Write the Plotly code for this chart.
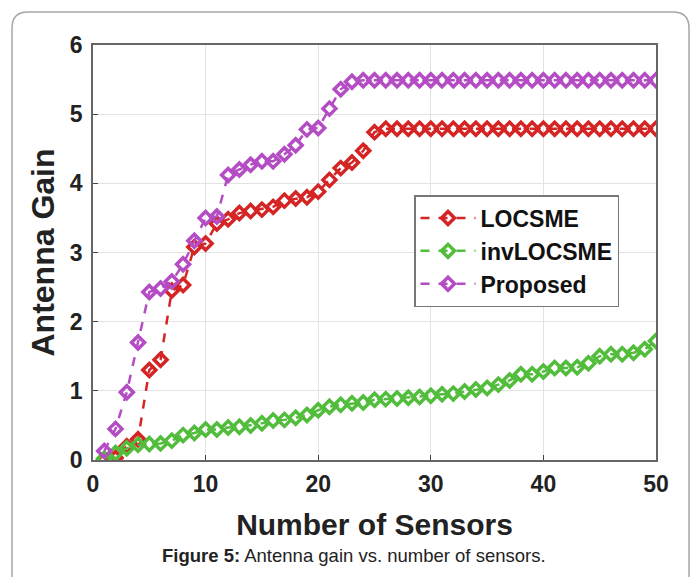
import plotly.graph_objects as go

sensors = list(range(1, 51))

locsme = [0.0, 0.03, 0.2, 0.3, 1.3, 1.45, 2.45, 2.53, 3.08, 3.13,
          3.42, 3.48, 3.57, 3.6, 3.62, 3.66, 3.75, 3.78, 3.8, 3.88,
          4.05, 4.22, 4.3, 4.47, 4.74] + [4.79] * 25

inv_locsme = [0.02, 0.1, 0.17, 0.22, 0.23, 0.24, 0.28, 0.36, 0.39, 0.44,
              0.44, 0.47, 0.48, 0.5, 0.53, 0.57, 0.58, 0.61, 0.65, 0.72,
              0.77, 0.8, 0.82, 0.83, 0.87, 0.88, 0.89, 0.9, 0.91, 0.93,
              0.95, 0.96, 0.99, 1.02, 1.04, 1.09, 1.15, 1.24, 1.24, 1.28,
              1.33, 1.33, 1.34, 1.4, 1.5, 1.53, 1.53, 1.55, 1.6, 1.72]

proposed = [0.13, 0.45, 0.98, 1.7, 2.43, 2.48, 2.58, 2.83, 3.17, 3.5,
            3.52, 4.12, 4.2, 4.27, 4.32, 4.32, 4.42, 4.55, 4.78, 4.8,
            5.08, 5.36, 5.47] + [5.49] * 27

series_names = ["LOCSME", "invLOCSME", "Proposed"]
series_values = [locsme, inv_locsme, proposed]
series_colors = ["#d42424", "#52bd3c", "#b44cc4"]

x_ticks = [0, 10, 20, 30, 40, 50]
y_ticks = [0, 1, 2, 3, 4, 5, 6]

FONT = "Liberation Sans, Arial, sans-serif"

fig = go.Figure()
for name, vals, col in zip(series_names, series_values, series_colors):
    fig.add_trace(go.Scatter(
        x=sensors, y=vals, name=name, mode="lines+markers",
        line=dict(color=col, width=2.5, dash="dash"),
        marker=dict(symbol="diamond-open", size=10, color=col,
                    line=dict(color=col, width=3.5)),
    ))

# plot area pixel geometry
L, R, T, B = 93, 656, 45, 460
W, H = 695, 577

def px(xp):
    return (xp - L) / (R - L)

def py(yp):
    return (B - yp) / (B - T)

# outer rounded border
x0, x1, y0, yb, r = px(12), px(689), py(12), py(600), 16
rx, ry = r / (R - L), r / (B - T)
path = (f"M {x0},{yb} L {x0},{y0 - ry} Q {x0},{y0} {x0 + rx},{y0} "
        f"L {x1 - rx},{y0} Q {x1},{y0} {x1},{y0 - ry} L {x1},{yb}")
fig.add_shape(type="path", path=path, xref="paper", yref="paper",
              line=dict(color="#a6a6a6", width=1.5), layer="below")

fig.add_annotation(
    x=px(354), y=py(555), xref="paper", yref="paper", showarrow=False,
    text="<b>Figure 5:</b> Antenna gain vs. number of sensors.",
    font=dict(family=FONT, size=18.5, color="#222"), xanchor="center", yanchor="middle")

fig.update_layout(
    width=W, height=H,
    margin=dict(l=L, r=W - R, t=T, b=H - B),
    paper_bgcolor="white", plot_bgcolor="white",
    font=dict(family=FONT, color="#262626"),
    showlegend=True,
    legend=dict(
        x=px(414), y=py(195), xanchor="left", yanchor="top",
        bgcolor="white", bordercolor="#777", borderwidth=1.5,
        font=dict(family=FONT, size=23, color="#111", weight="bold"),
        itemwidth=55, tracegroupgap=0,
    ),
    xaxis=dict(
        range=[0, 50], tickvals=x_ticks, ticktext=[str(v) for v in x_ticks],
        showgrid=True, gridcolor="#e3e3e3", gridwidth=1,
        showline=True, linecolor="#666", linewidth=1.5, mirror=True,
        ticks="inside", ticklen=5, tickcolor="#444", zeroline=False,
        tickfont=dict(family=FONT, size=23, color="#222", weight="bold"),
        ticklabelstandoff=3,
        title=dict(text="Number of Sensors", standoff=18,
                   font=dict(family=FONT, size=30, color="#222", weight="bold")),
    ),
    yaxis=dict(
        range=[0, 6], tickvals=y_ticks, ticktext=[str(v) for v in y_ticks],
        showgrid=True, gridcolor="#e3e3e3", gridwidth=1,
        showline=True, linecolor="#666", linewidth=1.5, mirror=True,
        ticks="inside", ticklen=5, tickcolor="#444", zeroline=False,
        tickfont=dict(family=FONT, size=23, color="#222", weight="bold"),
        ticklabelstandoff=4,
        title=dict(text="Antenna Gain", standoff=6,
                   font=dict(family=FONT, size=32, color="#222", weight="bold")),
    ),
)

fig.write_html("out.html", config={"displayModeBar": False},
               post_script="document.body.style.margin='0';")
